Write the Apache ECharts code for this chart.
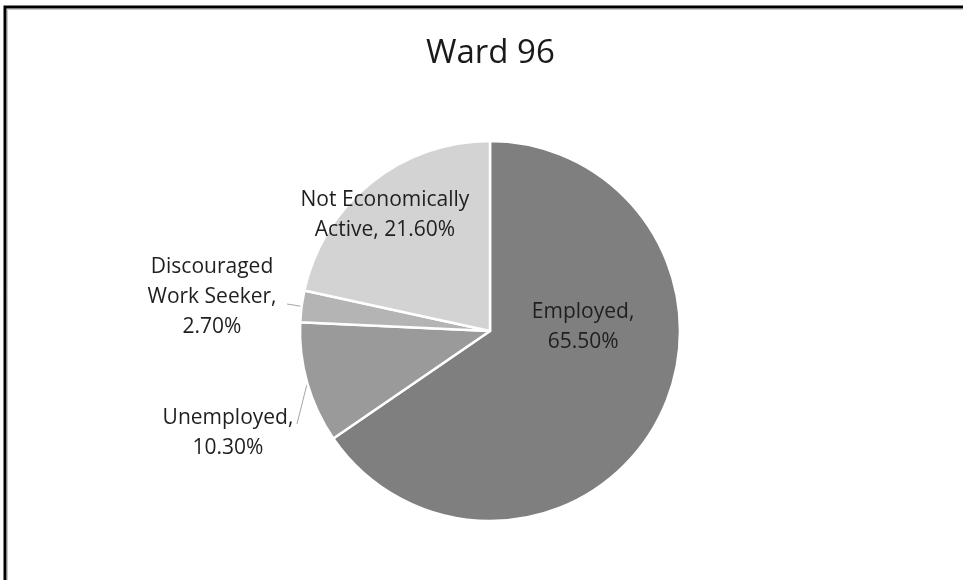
<!DOCTYPE html>
<html>
<head>
<meta charset="utf-8">
<script src="https://cdn.jsdelivr.net/npm/echarts@6/dist/echarts.min.js"></script>
<style>
  html, body { margin: 0; padding: 0; background: #fff; }
  #chart { width: 963px; height: 580px; }
</style>
</head>
<body>
<div id="chart"></div>
<script>
// Labour-force status, Ward 96 (percent of working-age population)
const categories = ['Employed', 'Unemployed', 'Discouraged Work Seeker', 'Not Economically Active'];
const shares = [65.5, 10.3, 2.7, 21.6];
// Label text: name with its line breaks, then the separator before the value
const wrappedNames = ['Employed', 'Unemployed', 'Discouraged\nWork Seeker', 'Not Economically\nActive'];
const separators = [',\n', ',\n', ',\n', ', '];
const sliceColors = ['#7f7f7f', '#9a9a9a', '#b4b4b4', '#d3d3d3'];

const CX = 490, CY = 331, R = 190;

// Label centres and leader-line tails, in pie radii from the centre
const labelSpots = [
  { c: [0.49, -0.02] },
  { c: [-1.379, 0.537], tail: [-1.016, 0.489] },
  { c: [-1.463, -0.179], tail: [-1.068, -0.142] },
  { c: [-0.553, -0.613] }
];

const total = shares.reduce((a, b) => a + b, 0);
function midAngle(i) {
  let before = 0;
  for (let k = 0; k < i; k++) before += shares[k];
  return ((before + shares[i] / 2) / total) * Math.PI * 2; // clockwise from 12 o'clock
}

const chart = echarts.init(document.getElementById('chart'), null, { renderer: 'canvas' });

chart.setOption({
  backgroundColor: '#ffffff',
  animation: false,
  title: {
    text: 'Ward 96',
    left: 421,
    top: 32,
    textStyle: { fontFamily: 'Open Sans', fontSize: 33, fontWeight: 'normal', color: '#1a1a1a' }
  },
  graphic: [
    {
      type: 'rect',
      shape: { x: 5, y: 7, width: 1100, height: 700 },
      style: { fill: 'none', stroke: '#000', lineWidth: 3 },
      silent: true
    },
    {
      type: 'rect',
      shape: { x: 7.5, y: 9.5, width: 1100, height: 700 },
      style: { fill: 'none', stroke: '#c8c8c8', lineWidth: 1 },
      silent: true
    }
  ],
  series: [{
    type: 'pie',
    center: [CX, CY],
    radius: R,
    startAngle: 90,
    clockwise: true,
    color: sliceColors,
    itemStyle: { borderColor: '#ffffff', borderWidth: 2.5 },
    label: {
      show: true,
      position: 'outside',
      fontFamily: 'Open Sans',
      fontSize: 21,
      lineHeight: 30,
      color: '#1f1f1f',
      formatter: p => wrappedNames[p.dataIndex] + separators[p.dataIndex] + p.value.toFixed(2) + '%'
    },
    labelLine: {
      show: true,
      lineStyle: { color: '#a6a6a6', width: 1 }
    },
    labelLayout: function (params) {
      const i = params.dataIndex;
      const spot = labelSpots[i];
      const out = {
        x: CX + spot.c[0] * R,
        y: CY + spot.c[1] * R,
        align: 'center',
        verticalAlign: 'middle'
      };
      if (spot.tail) {
        const a = midAngle(i);
        const edge = [CX + Math.sin(a) * R, CY - Math.cos(a) * R];
        const tail = [CX + spot.tail[0] * R, CY + spot.tail[1] * R];
        out.labelLinePoints = [edge, tail, tail];
      }
      return out;
    },
    data: categories.map((name, i) => ({
      name: name,
      value: shares[i],
      label: { position: (i === 1 || i === 2) ? 'outside' : 'inside' },
      labelLine: { show: i === 1 || i === 2 }
    }))
  }]
});
</script>
</body>
</html>
